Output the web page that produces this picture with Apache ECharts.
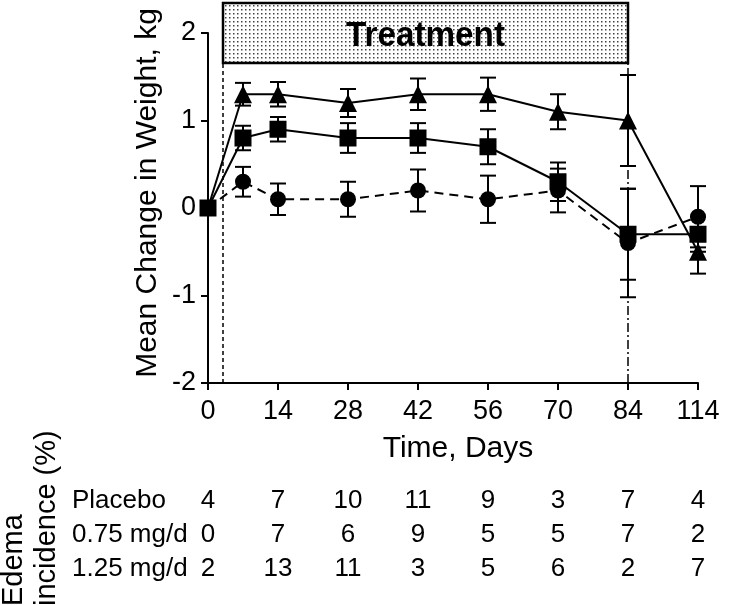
<!DOCTYPE html>
<html><head><meta charset="utf-8">
<script src="https://cdn.jsdelivr.net/npm/echarts@6/dist/echarts.min.js"></script>
<style>html,body{margin:0;padding:0;background:#fff}#c{width:737px;height:605px}</style>
</head><body><div id="c"></div>
<script>
// ---- data ----
const days = [0, 7, 14, 28, 42, 56, 70, 84, 114];
const tickDays = [0, 14, 28, 42, 56, 70, 84, 114];
const placeboMean = [0, 0.3, 0.1, 0.1, 0.2, 0.1, 0.2, -0.4, -0.1];
const placeboErr  = [0, 0.17, 0.18, 0.2, 0.24, 0.27, 0.25, 0.62, 0.35];
const lowMean  = [0, 0.8, 0.9, 0.8, 0.8, 0.7, 0.3, -0.3, -0.3];
const lowErr   = [0, 0.14, 0.14, 0.17, 0.17, 0.2, 0.22, 0.52, 0.2];
const highMean = [0, 1.3, 1.3, 1.2, 1.3, 1.3, 1.1, 1.0, -0.5];
const highErr  = [0, 0.13, 0.14, 0.16, 0.18, 0.19, 0.2, 0.52, 0.25];
const tableLabels = ['Placebo', '0.75 mg/d', '1.25 mg/d'];
const edemaPlacebo = [4, 7, 10, 11, 9, 3, 7, 4];
const edemaLow     = [0, 7, 6, 9, 5, 5, 7, 2];
const edemaHigh    = [2, 13, 11, 3, 5, 6, 2, 7];
const treatmentStart = 3, treatmentEnd = 84;

// broken time axis: day 114 is drawn one 14-day step after day 84
function axisPos(d) { return d <= 84 ? d : 98; }
function axisLabelOf(v) { return v === 98 ? '114' : String(v); }

const FONT = '"Liberation Sans", Arial, Helvetica, sans-serif';

function pts(means, skipFirst) {
  return days.map((d, i) => {
    const p = { value: [axisPos(d), means[i]] };
    if (skipFirst && i === 0) p.symbol = 'none';
    return p;
  });
}
function errData(means, errs) {
  return days.map((d, i) => [axisPos(d), means[i], errs[i]]);
}
function errRender(params, api) {
  const x = api.value(0), y = api.value(1), e = api.value(2);
  if (!e) return null;
  const t = api.coord([x, y + e]), b = api.coord([x, y - e]);
  const hw = 8, st = { stroke: '#000', lineWidth: 2 };
  return { type: 'group', children: [
    { type: 'line', shape: { x1: t[0], y1: t[1], x2: b[0], y2: b[1] }, style: st },
    { type: 'line', shape: { x1: t[0] - hw, y1: t[1], x2: t[0] + hw, y2: t[1] }, style: st },
    { type: 'line', shape: { x1: b[0] - hw, y1: b[1], x2: b[0] + hw, y2: b[1] }, style: st }
  ]};
}

const chart = echarts.init(document.getElementById('c'), null, { renderer: 'canvas' });
chart.setOption({
  animation: false,
  backgroundColor: '#fff',
  grid: { left: 208, right: 39, top: 33, bottom: 222, containLabel: false },
  xAxis: {
    type: 'value', min: 0, max: 98, interval: 14,
    axisLine: { show: true, onZero: false, lineStyle: { color: '#000', width: 2 } },
    axisTick: { show: true, length: 7, lineStyle: { color: '#000', width: 2 } },
    axisLabel: { color: '#000', fontSize: 27, fontFamily: FONT, margin: 15, formatter: axisLabelOf },
    splitLine: { show: false }
  },
  yAxis: {
    type: 'value', min: -2, max: 2, interval: 1,
    axisLine: { show: true, onZero: false, lineStyle: { color: '#000', width: 2 } },
    axisTick: { show: true, length: 7, lineStyle: { color: '#000', width: 2 } },
    axisLabel: { color: '#000', fontSize: 27, fontFamily: FONT, margin: 12 },
    splitLine: { show: false }
  },
  series: [
    { type: 'line', data: pts(placeboMean, true), symbol: 'circle', symbolSize: 16,
      itemStyle: { color: '#000' }, lineStyle: { color: '#000', width: 2, type: [9, 6] }, z: 3,
      markLine: { silent: true, symbol: 'none', label: { show: false },
        data: [
          { xAxis: treatmentStart, lineStyle: { color: '#000', width: 1.5, type: [4, 3] } },
          { xAxis: treatmentEnd, lineStyle: { color: '#000', width: 1.5, type: [9, 3, 2, 3] } }
        ] } },
    { type: 'line', data: pts(lowMean, false), symbol: 'rect', symbolSize: 17,
      itemStyle: { color: '#000' }, lineStyle: { color: '#000', width: 2 }, z: 4 },
    { type: 'line', data: pts(highMean, true), symbol: 'triangle', symbolSize: 18,
      itemStyle: { color: '#000' }, lineStyle: { color: '#000', width: 2 }, z: 3 },
    { type: 'custom', renderItem: errRender, data: errData(placeboMean, placeboErr), encode: { x: 0, y: 1 }, z: 2 },
    { type: 'custom', renderItem: errRender, data: errData(lowMean, lowErr), encode: { x: 0, y: 1 }, z: 2 },
    { type: 'custom', renderItem: errRender, data: errData(highMean, highErr), encode: { x: 0, y: 1 }, z: 2 }
  ]
});

// dotted fill for the treatment box
const pc = document.createElement('canvas');
pc.width = 4; pc.height = 4;
const pctx = pc.getContext('2d');
pctx.fillStyle = '#fff'; pctx.fillRect(0, 0, 4, 4);
pctx.fillStyle = '#444'; pctx.fillRect(1, 1, 1.5, 1.5);

const px = (x, y) => chart.convertToPixel({ gridIndex: 0 }, [x, y]);
const xs = px(treatmentStart, 0)[0], xe = px(treatmentEnd, 0)[0];
const g = [];
g.push({ type: 'rect', z: 100, shape: { x: xs, y: 3, width: xe - xs, height: 60 },
  style: { fill: { image: pc, repeat: 'repeat' }, stroke: '#000', lineWidth: 2.5 } });
g.push({ type: 'text', z: 101, x: (xs + xe) / 2, y: 36, scaleX: 0.95,
  style: { text: 'Treatment', fill: '#000', font: 'bold 35px ' + FONT, textAlign: 'center', textVerticalAlign: 'middle' } });
// axis titles
g.push({ type: 'text', z: 101, x: 148, y: 193, rotation: Math.PI / 2,
  style: { text: 'Mean Change in Weight, kg', fill: '#000', font: '30px ' + FONT, textAlign: 'center', textVerticalAlign: 'middle' } });
g.push({ type: 'text', z: 101, x: 458, y: 449,
  style: { text: 'Time, Days', fill: '#000', font: '30px ' + FONT, textAlign: 'center', textVerticalAlign: 'middle' } });
// edema table
g.push({ type: 'text', z: 101, x: 14, y: 606, rotation: Math.PI / 2,
  style: { text: 'Edema', fill: '#000', font: '29px ' + FONT, textAlign: 'left', textVerticalAlign: 'middle' } });
g.push({ type: 'text', z: 101, x: 47, y: 606, rotation: Math.PI / 2,
  style: { text: 'incidence (%)', fill: '#000', font: '29px ' + FONT, textAlign: 'left', textVerticalAlign: 'middle' } });
const rows = [edemaPlacebo, edemaLow, edemaHigh];
const rowY = [501, 535, 569];
rows.forEach((r, ri) => {
  g.push({ type: 'text', z: 101, x: 72, y: rowY[ri],
    style: { text: tableLabels[ri], fill: '#000', font: '26px ' + FONT, textAlign: 'left', textVerticalAlign: 'middle' } });
  r.forEach((v, ci) => {
    const cx = px(axisPos(tickDays[ci]), 0)[0];
    g.push({ type: 'text', z: 101, x: cx, y: rowY[ri],
      style: { text: String(v), fill: '#000', font: '26px ' + FONT, textAlign: 'center', textVerticalAlign: 'middle' } });
  });
});
chart.setOption({ graphic: g });
</script>
</body></html>
